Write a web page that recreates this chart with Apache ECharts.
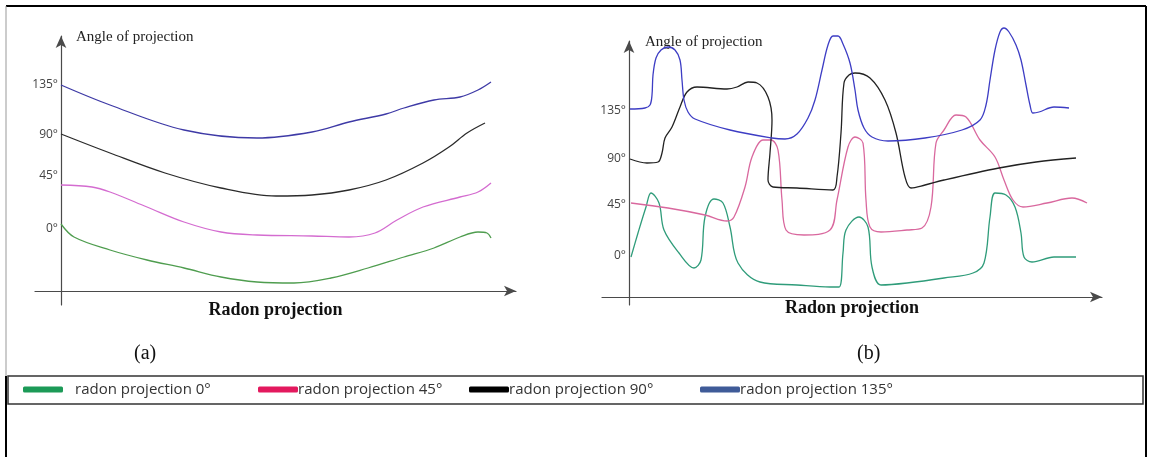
<!DOCTYPE html>
<html><head><meta charset="utf-8">
<script src="https://cdn.jsdelivr.net/npm/echarts@6/dist/echarts.min.js"></script>
<style>html,body{margin:0;padding:0;background:#fff}#c{width:1152px;height:457px}</style>
</head><body><div id="c"></div>
<script>
// Names of the four projection curves
const seriesNames = ['radon projection 0°','radon projection 45°','radon projection 90°','radon projection 135°'];
// Tick labels of the angle axis and their heights (units along the axis)
const tickLabels = ['0°','45°','90°','135°'];
const tickValsA = [62,115,156,206];
const tickValsB = [41,92,138,186];

// Panel (a): [position along Radon axis, height]
const aGreen = [[0,67],[13,54],[49,41],[86,31],[123,23],[160,14],[196,9],[233,8],[270,13],[307,23],[343,34],[373,43],[399,54],[417,59],[426,58],[430,53]];
const aPink  = [[0,106],[31,104],[49,99],[86,84],[123,69],[160,59],[196,56],[251,55],[288,54],[314,58],[336,71],[362,84],[399,94],[417,99],[430,108]];
const aBlack = [[0,157],[49,138],[104,118],[160,103],[215,95],[251,96],[288,101],[325,111],[362,128],[388,144],[406,158],[424,168]];
const aBlue  = [[0,206],[49,186],[123,161],[196,153],[251,159],[288,169],[325,177],[343,183],[373,191],[399,194],[417,201],[430,209]];

// Panel (b)
const bGreen = [[2,40],[9,64],[17,90],[22,104],[30,94],[35,67],[50,44],[65,29],[72,37],[76,80],[85,98],[94,94],[101,70],[109,34],[131,15],[168,12],[201,10],[210,10],[214,44],[217,67],[230,80],[239,70],[243,30],[252,12],[278,14],[315,19],[344,24],[355,34],[361,80],[366,104],[377,102],[386,90],[392,64],[395,40],[403,35],[425,40],[447,40]];
const bPink  = [[2,94],[39,89],[76,82],[98,76],[105,80],[116,110],[123,140],[134,157],[142,157],[149,147],[153,97],[157,67],[175,62],[201,67],[208,97],[219,150],[226,160],[234,154],[237,97],[241,70],[252,65],[278,67],[293,69],[302,90],[307,154],[315,167],[327,182],[337,180],[351,157],[366,140],[375,117],[384,97],[394,90],[418,94],[443,99],[458,94]];
const bBlack = [[1,138],[18,134],[29,135],[33,144],[36,159],[43,170],[51,190],[58,205],[68,210],[98,208],[108,210],[119,215],[128,214],[139,200],[143,177],[141,144],[139,117],[144,110],[168,109],[204,107],[208,120],[212,164],[215,214],[220,222],[226,224],[241,219],[256,197],[267,164],[276,120],[282,109],[296,112],[315,117],[370,129],[407,135],[447,139]];
const bBlue  = [[1,188],[16,189],[21,192],[23,202],[24,222],[27,239],[32,247],[39,250],[46,247],[51,237],[53,217],[55,197],[59,185],[66,178],[101,167],[143,159],[156,158],[168,163],[179,179],[186,197],[193,227],[199,252],[204,261],[209,261],[214,253],[221,234],[226,207],[229,187],[235,169],[243,160],[259,156],[296,159],[333,167],[351,177],[357,192],[361,217],[366,247],[371,265],[375,269],[380,265],[387,252],[392,237],[397,212],[401,192],[404,184],[410,185],[425,190],[440,189]];

const colorsA = ['#4f9d4f','#d46cd0','#2b2b2b','#3e3aa6'];
const colorsB = ['#2f9c7a','#d9689e','#222222','#3d3dc4'];
const legendColors = ['#1c9a57','#e3195e','#000000','#3f5b98'];
const legendLeft = [23, 258, 469, 700];
const legendTextPad = [7, -5, -5, -5];

const chart = echarts.init(document.getElementById('c'), null, {renderer:'canvas'});

function xAx(grid, min, max, gap){
  return {gridIndex:grid, type:'value', min:min, max:max,
    axisLine:{onZero:true, symbol:['none','arrow'], symbolSize:[8,12], lineStyle:{color:'#4a4a4a', width:1.2}},
    axisTick:{show:false}, axisLabel:{show:false}, splitLine:{show:false},
    name:'Radon projection', nameLocation:'middle', nameGap:gap,
    nameTextStyle:{fontFamily:'Liberation Serif', fontWeight:'bold', fontSize:18, color:'#111'}};
}
function yAx(grid, min, max, vals, margin){
  return {gridIndex:grid, type:'value', min:min, max:max,
    axisLine:{onZero:true, symbol:['none','arrow'], symbolSize:[8,12], lineStyle:{color:'#4a4a4a', width:1.2}},
    axisTick:{show:false}, splitLine:{show:false},
    axisLabel:{customValues:vals, margin:margin, fontFamily:'Open Sans', fontSize:12, color:'#444',
      formatter:function(v){ const i = vals.indexOf(v); return i>=0 ? tickLabels[i] : ''; }}};
}
function ser(name, data, color, idx){
  return {type:'line', name:name, data:data, xAxisIndex:idx, yAxisIndex:idx, smooth:0.35,
    symbol:'none', clip:false, silent:true, lineStyle:{color:color, width:1.3}, itemStyle:{color:color}};
}

const legends = seriesNames.map((n,i)=>({
  left:legendLeft[i], top:382, icon:'roundRect', itemWidth:40, itemHeight:6, itemGap:4,
  selectedMode:false, padding:0,
  textStyle:{fontFamily:'Open Sans', fontSize:15, color:'#333', padding:[0,0,0,legendTextPad[i]]},
  data:[{name:n, itemStyle:{color:legendColors[i]}}]
}));

chart.setOption({
  animation:false,
  backgroundColor:'#fff',
  grid:[{left:35, top:36, width:481, height:269},{left:602, top:41, width:500, height:264}],
  xAxis:[xAx(0,-26,455,-4), xAx(1,-27,473,-6)],
  yAxis:[yAx(0,-14,255,tickValsA,-23), yAx(1,-8,256,tickValsB,-24)],
  legend:legends,
  series:[
    ser(seriesNames[0], aGreen, colorsA[0], 0), ser(seriesNames[1], aPink, colorsA[1], 0),
    ser(seriesNames[2], aBlack, colorsA[2], 0), ser(seriesNames[3], aBlue, colorsA[3], 0),
    ser(seriesNames[0], bGreen, colorsB[0], 1), ser(seriesNames[1], bPink, colorsB[1], 1),
    ser(seriesNames[2], bBlack, colorsB[2], 1), ser(seriesNames[3], bBlue, colorsB[3], 1)
  ],
  graphic:[
    {type:'line', shape:{x1:6,y1:6,x2:1146,y2:6}, style:{stroke:'#000', lineWidth:2}},
    {type:'line', shape:{x1:1146,y1:6,x2:1146,y2:457}, style:{stroke:'#000', lineWidth:2}},
    {type:'line', shape:{x1:6,y1:6,x2:6,y2:376}, style:{stroke:'#999', lineWidth:1}},
    {type:'line', shape:{x1:6,y1:376,x2:6,y2:457}, style:{stroke:'#000', lineWidth:2}},
    {type:'rect', shape:{x:8,y:376,width:1135,height:28}, style:{fill:'none', stroke:'#333', lineWidth:1.5}},
    {type:'text', left:76, top:30, style:{text:'Angle of projection', font:'15px "Liberation Serif"', fill:'#222'}},
    {type:'text', left:645, top:35, style:{text:'Angle of projection', font:'15px "Liberation Serif"', fill:'#222'}},
    {type:'text', left:134, top:344, style:{text:'(a)', font:'20px "Liberation Serif"', fill:'#111'}},
    {type:'text', left:857, top:344, style:{text:'(b)', font:'20px "Liberation Serif"', fill:'#111'}}
  ]
});
</script></body></html>
